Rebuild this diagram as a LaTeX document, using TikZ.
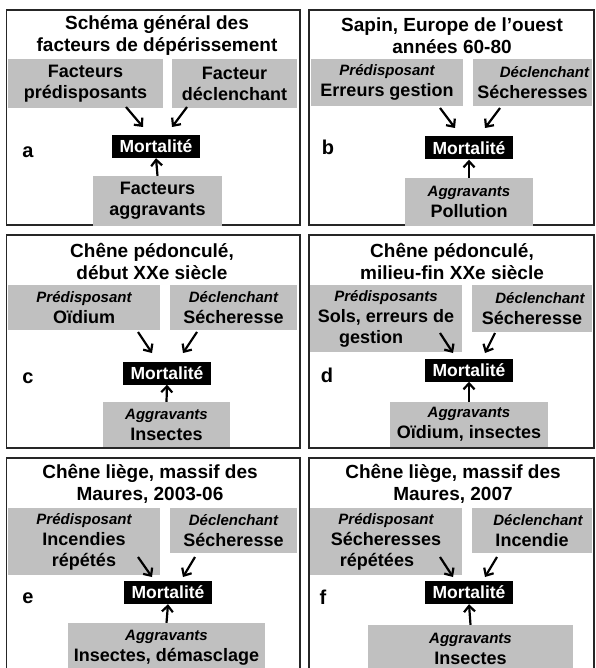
\documentclass[tikz,border=0pt]{standalone}
\usepackage{fontspec}
\setmainfont{Liberation Sans}
\usetikzlibrary{arrows.meta}
\definecolor{boxgray}{RGB}{192,192,192}
\newcommand{\ttlfont}{\fontsize{19}{22}\selectfont\bfseries}
\newcommand{\boxfont}{\fontsize{18}{21}\selectfont\bfseries}
\newcommand{\mortfont}{\fontsize{17.5}{20}\selectfont\bfseries}
\newcommand{\letfont}{\fontsize{20}{22}\selectfont\bfseries}
\newcommand{\lbl}[1]{{\fontsize{15}{21}\selectfont\itshape #1}}
\begin{document}
\begin{tikzpicture}[x=1pt,y=-1pt,
  panel/.style={draw=black!85, line width=1.4pt},
  gbox/.style={fill=boxgray, inner sep=0pt, align=center, font=\boxfont},
  mort/.style={fill=black, text=white, inner sep=0pt, minimum width=88pt, minimum height=23pt, font=\mortfont},
  ttl/.style={align=center, font=\ttlfont, inner sep=0pt},
  lett/.style={font=\letfont, inner sep=0pt},
  arr/.style={line width=2.2pt, -{Straight Barb[length=6pt,width=11pt]}}]
\clip (0,0) rectangle (595,668);
\fill[white] (0,0) rectangle (595,668);
% panel borders
\draw[panel] (6.5,10) rectangle (300,225);
\draw[panel] (309,10) rectangle (594,225);
\draw[panel] (6.5,235) rectangle (300,448);
\draw[panel] (309,235) rectangle (594,448);
\draw[panel] (6.5,458) rectangle (300,680);
\draw[panel] (309,458) rectangle (594,680);

% ---------- panel a
\node[ttl] (a-t) at (157,36) {Schéma général des\\facteurs de dépérissement};
\node[gbox, minimum width=155pt, minimum height=49pt] (a-l) at (85.5,83.5) {Facteurs\\prédisposants};
\node[gbox, minimum width=125pt, minimum height=49pt] (a-r) at (234.5,83.5) {Facteur\\déclenchant};
\node[mort] (a-m) at (156,146.5) {Mortalité};
\node[gbox, minimum width=129pt, minimum height=50pt] (a-b) at (157.5,201) {Facteurs\\aggravants};
\node[lett] (a-x) at (28,152) {a};
\coordinate (a-l1) at (126,107); \coordinate (a-l2) at (143,127);
\coordinate (a-r1) at (187,107); \coordinate (a-r2) at (172,127);
\draw[arr] (a-l1) -- (a-l2);
\draw[arr] (a-r1) -- (a-r2);
\draw[arr] (a-b.north) -- (a-m.south);

% ---------- panel b
\node[ttl] (b-t) at (452,36) {Sapin, Europe de l’ouest\\années 60-80};
\node[gbox, minimum width=152pt, minimum height=47pt] (b-l) at (387,82.5) {\lbl{Prédisposant}\\Erreurs gestion};
\node[gbox, minimum width=119pt, minimum height=47pt] (b-r) at (532.5,82.5) {\hspace*{24pt}\lbl{Déclenchant}\\Sécheresses};
\node[mort] (b-m) at (469,148) {Mortalité};
\node[gbox, minimum width=128pt, minimum height=48pt] (b-b) at (469,202) {\lbl{Aggravants}\\Pollution};
\node[lett] (b-x) at (328,147) {b};
\coordinate (b-l1) at (440,108); \coordinate (b-l2) at (455,128);
\coordinate (b-r1) at (500,108); \coordinate (b-r2) at (485,128);
\draw[arr] (b-l1) -- (b-l2);
\draw[arr] (b-r1) -- (b-r2);
\draw[arr] (b-b.north) -- (b-m.south);

% ---------- panel c
\node[ttl] (c-t) at (152,261) {Chêne pédonculé,\\début XXe siècle};
\node[gbox, minimum width=152pt, minimum height=45pt] (c-l) at (84,307.5) {\lbl{Prédisposant}\\Oïdium};
\node[gbox, minimum width=127pt, minimum height=45pt] (c-r) at (233.5,307.5) {\lbl{Déclenchant}\\Sécheresse};
\node[mort] (c-m) at (167,373) {Mortalité};
\node[gbox, minimum width=127pt, minimum height=45pt] (c-b) at (166.5,424.5) {\lbl{Aggravants}\\Insectes};
\node[lett] (c-x) at (28,378) {c};
\coordinate (c-l1) at (138,332); \coordinate (c-l2) at (152,353);
\coordinate (c-r1) at (197,332); \coordinate (c-r2) at (183,353);
\draw[arr] (c-l1) -- (c-l2);
\draw[arr] (c-r1) -- (c-r2);
\draw[arr] (c-b.north) -- (c-m.south);

% ---------- panel d
\node[ttl] (d-t) at (452,261) {Chêne pédonculé,\\milieu-fin XXe siècle};
\node[gbox, minimum width=152pt, minimum height=67pt] (d-l) at (386,318.5) {\lbl{Prédisposants}\\Sols, erreurs de\\gestion\hspace*{30pt}};
\node[gbox, minimum width=120pt, minimum height=47pt] (d-r) at (532,308.5) {\hspace*{16pt}\lbl{Déclenchant}\\Sécheresse};
\node[mort] (d-m) at (469,370) {Mortalité};
\node[gbox, minimum width=158pt, minimum height=45pt] (d-b) at (469,424.5) {\lbl{Aggravants}\\Oïdium, insectes};
\node[lett] (d-x) at (327,375) {d};
\coordinate (d-l1) at (440,333); \coordinate (d-l2) at (453,353);
\coordinate (d-r1) at (495,333); \coordinate (d-r2) at (485,353);
\draw[arr] (d-l1) -- (d-l2);
\draw[arr] (d-r1) -- (d-r2);
\draw[arr] (d-b.north) -- (d-m.south);

% ---------- panel e
\node[ttl] (e-t) at (150,484) {Chêne liège, massif des\\Maures, 2003-06};
\node[gbox, minimum width=152pt, minimum height=67pt] (e-l) at (84,541.5) {\lbl{Prédisposant}\\Incendies\\répétés};
\node[gbox, minimum width=127pt, minimum height=45pt] (e-r) at (233.5,530.5) {\lbl{Déclenchant}\\Sécheresse};
\node[mort] (e-m) at (168,592.5) {Mortalité};
\node[gbox, minimum width=197pt, minimum height=50pt] (e-b) at (166.5,648) {\lbl{Aggravants}\\Insectes, démasclage};
\node[lett] (e-x) at (28,598) {e};
\coordinate (e-l1) at (138,557); \coordinate (e-l2) at (152,577);
\coordinate (e-r1) at (195,557); \coordinate (e-r2) at (183,577);
\draw[arr] (e-l1) -- (e-l2);
\draw[arr] (e-r1) -- (e-r2);
\draw[arr] (e-b.north) -- (e-m.south);

% ---------- panel f
\node[ttl] (f-t) at (453,484) {Chêne liège, massif des\\Maures, 2007};
\node[gbox, minimum width=152pt, minimum height=67pt] (f-l) at (386,541.5) {\lbl{Prédisposant}\\Sécheresses\\répétées\hspace*{18pt}};
\node[gbox, minimum width=120pt, minimum height=45pt] (f-r) at (532,530.5) {\hspace*{12pt}\lbl{Déclenchant}\\Incendie};
\node[mort] (f-m) at (469,592.5) {Mortalité};
\node[gbox, minimum width=205pt, minimum height=48pt] (f-b) at (470.5,649) {\lbl{Aggravants}\\Insectes};
\node[lett] (f-x) at (323,597) {f};
\coordinate (f-l1) at (440,557); \coordinate (f-l2) at (453,577);
\coordinate (f-r1) at (497,557); \coordinate (f-r2) at (485,577);
\draw[arr] (f-l1) -- (f-l2);
\draw[arr] (f-r1) -- (f-r2);
\draw[arr] (f-b.north) -- (f-m.south);
\end{tikzpicture}
\end{document}
